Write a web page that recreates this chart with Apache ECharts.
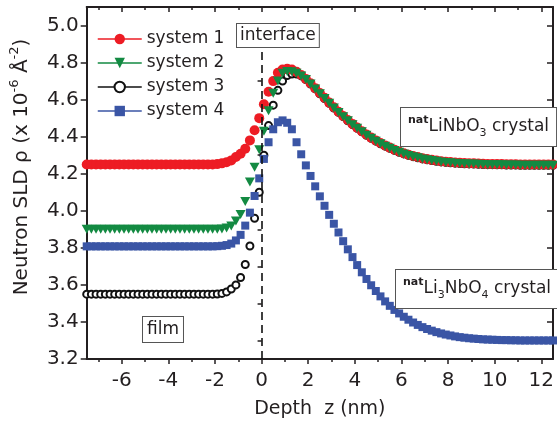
<!DOCTYPE html>
<html><head><meta charset="utf-8">
<script src="https://cdn.jsdelivr.net/npm/echarts@6/dist/echarts.min.js"></script>
<style>html,body{margin:0;padding:0;background:#fff}#c{width:557px;height:426px}</style>
</head><body><div id="c"></div>
<script>
// ---------- data ----------
const depth = [-7.5,-7.3,-7.1,-6.9,-6.7,-6.5,-6.3,-6.1,-5.9,-5.7,-5.5,-5.3,-5.1,-4.9,-4.7,-4.5,-4.3,-4.1,-3.9,-3.7,-3.5,-3.3,-3.1,-2.9,-2.7,-2.5,-2.3,-2.1,
 -1.9,-1.7,-1.5,-1.3,-1.1,-0.9,-0.7,-0.5,-0.3,-0.1,
 0.1,0.3,0.5,0.7,0.9,1.1,1.3,1.5,
 1.7,1.9,2.1,2.3,2.5,2.7,2.9,3.1,3.3,3.5,3.7,3.9,4.1,4.3,4.5,4.7,4.9,5.1,5.3,5.5,5.7,5.9,6.1,6.3,6.5,6.7,6.9,7.1,7.3,7.5,7.7,7.9,8.1,8.3,8.5,8.7,8.9,9.1,9.3,9.5,9.7,9.9,10.1,10.3,10.5,10.7,10.9,11.1,11.3,11.5,11.7,11.9,12.1,12.3,12.5];

const system1 = [4.25,4.25,4.25,4.25,4.25,4.25,4.25,4.25,4.25,4.25,4.25,4.25,4.25,4.25,4.25,4.25,4.25,4.25,4.25,4.25,4.25,4.25,4.25,4.25,4.25,4.25,4.25,4.25,
 4.252,4.256,4.262,4.272,4.29,4.308,4.335,4.38,4.435,4.50,
 4.575,4.643,4.70,4.745,4.762,4.767,4.762,4.75,
 4.733,4.712,4.688,4.662,4.636,4.61,4.584,4.559,4.535,4.512,4.49,4.469,4.449,4.43,4.412,4.395,4.38,4.366,4.353,4.341,4.33,4.32,4.311,4.303,4.296,4.29,4.284,4.279,4.275,4.271,4.268,4.265,4.263,4.261,4.259,4.258,4.257,4.256,4.255,4.254,4.253,4.253,4.252,4.252,4.251,4.251,4.251,4.25,4.25,4.25,4.25,4.25,4.25,4.25,4.25];

const system2 = [3.9,3.9,3.9,3.9,3.9,3.9,3.9,3.9,3.9,3.9,3.9,3.9,3.9,3.9,3.9,3.9,3.9,3.9,3.9,3.9,3.9,3.9,3.9,3.9,3.9,3.9,3.9,3.9,
 3.90,3.902,3.907,3.918,3.945,3.98,4.05,4.155,4.235,4.33,
 4.43,4.54,4.635,4.70,4.742,4.752,4.75,4.742,
 4.728,4.708,4.684,4.658,4.632,4.606,4.58,4.555,4.531,4.508,4.486,4.465,4.445,4.426,4.408,4.391,4.376,4.362,4.349,4.337,4.326,4.316,4.307,4.299,4.292,4.286,4.28,4.275,4.271,4.267,4.264,4.261,4.259,4.257,4.255,4.254,4.253,4.252,4.251,4.25,4.249,4.249,4.248,4.248,4.247,4.247,4.247,4.246,4.246,4.246,4.246,4.246,4.246,4.246,4.246];

const system3 = [3.55,3.55,3.55,3.55,3.55,3.55,3.55,3.55,3.55,3.55,3.55,3.55,3.55,3.55,3.55,3.55,3.55,3.55,3.55,3.55,3.55,3.55,3.55,3.55,3.55,3.55,3.55,3.55,
 3.551,3.554,3.562,3.578,3.60,3.64,3.71,3.81,3.96,4.10,
 4.30,4.46,4.57,4.65,4.70,4.73,4.738,4.738,
 4.728,4.708,4.684,4.658,4.632,4.606,4.58,4.555,4.531,4.508,4.486,4.465,4.445,4.426,4.408,4.391,4.376,4.362,4.349,4.337,4.326,4.316,4.307,4.299,4.292,4.286,4.28,4.275,4.271,4.267,4.264,4.261,4.259,4.257,4.255,4.254,4.253,4.252,4.251,4.25,4.249,4.249,4.248,4.248,4.247,4.247,4.247,4.246,4.246,4.246,4.246,4.246,4.246,4.246,4.246];

const system4 = [3.808,3.808,3.808,3.808,3.808,3.808,3.808,3.808,3.808,3.808,3.808,3.808,3.808,3.808,3.808,3.808,3.808,3.808,3.808,3.808,3.808,3.808,3.808,3.808,3.808,3.808,3.808,3.808,
 3.809,3.811,3.815,3.823,3.84,3.87,3.92,3.99,4.08,4.175,
 4.28,4.37,4.44,4.478,4.488,4.475,4.44,4.37,
 4.305,4.245,4.188,4.132,4.078,4.027,3.978,3.93,3.883,3.836,3.792,3.75,3.707,3.668,3.632,3.598,3.567,3.538,3.511,3.487,3.465,3.446,3.428,3.412,3.397,3.384,3.372,3.362,3.353,3.345,3.338,3.332,3.327,3.322,3.318,3.315,3.312,3.31,3.308,3.306,3.305,3.304,3.303,3.302,3.302,3.301,3.301,3.3,3.3,3.3,3.3,3.3,3.3,3.3,3.3];

const seriesNames = ['system 1','system 2','system 3','system 4'];
const xTickLabels = [-6,-4,-2,0,2,4,6,8,10,12];
const xMinorTicks = [-7,-5,-3,-1,1,3,5,7,9,11];
const yTickLabels = [3.2,3.4,3.6,3.8,4.0,4.2,4.4,4.6,4.8,5.0];
const yMinorTicks = [3.3,3.5,3.7,3.9,4.1,4.3,4.5,4.7,4.9];
const interfaceDepth = 0;

// ---------- chart ----------
const FONT = 'DejaVu Sans';
const INK = '#231F20';
const chart = echarts.init(document.getElementById('c'), null, {renderer: 'canvas'});
const pairs = arr => depth.map((x, i) => [x, arr[i]]);

const X_MIN = -7.5, X_MAX = 12.5, Y_MIN = 3.2, Y_MAX = 5.1;

function xAx(pos, ticks, len, inside, opts) {
  return Object.assign({
    type: 'value', min: X_MIN, max: X_MAX, position: pos, gridIndex: 0,
    axisLine: {show: false},
    axisTick: {show: true, customValues: ticks, length: len, inside: inside, lineStyle: {color: INK, width: 1.5}},
    axisLabel: {show: false},
    splitLine: {show: false}
  }, opts || {});
}
function yAx(pos, ticks, len, inside, opts) {
  return Object.assign({
    type: 'value', min: Y_MIN, max: Y_MAX, position: pos, gridIndex: 0,
    axisLine: {show: false},
    axisTick: {show: true, customValues: ticks, length: len, inside: inside, lineStyle: {color: INK, width: 1.5}},
    axisLabel: {show: false},
    splitLine: {show: false}
  }, opts || {});
}

const option = {
  animation: false,
  backgroundColor: '#fff',
  grid: {left: 84, right: 2, top: 7, bottom: 67, containLabel: false},
  legend: {
    data: seriesNames,
    orient: 'vertical', left: 92, top: 25,
    itemWidth: 44, itemHeight: 13, itemGap: 6,
    textStyle: {fontFamily: FONT, fontSize: 17, color: INK, lineHeight: 18},
    lineStyle: {opacity: 1, width: 1.5},
    selectedMode: false
  },
  xAxis: [
    xAx('bottom', xTickLabels, 5, false, {
      axisLine: {show: true, onZero: false, lineStyle: {color: INK, width: 2}},
      axisLabel: {show: true, customValues: xTickLabels, fontFamily: FONT, fontSize: 20, color: INK, margin: 12},
      name: 'Depth  z (nm)', nameLocation: 'middle', nameGap: 41,
      nameTextStyle: {fontFamily: FONT, fontSize: 19, color: INK}
    }),
    xAx('bottom', xMinorTicks, 3, false),
    xAx('top', xTickLabels, 5, true, {axisLine: {show: true, onZero: false, lineStyle: {color: INK, width: 2}}}),
    xAx('top', xMinorTicks, 3, true)
  ],
  yAxis: [
    yAx('left', yTickLabels, 6, false, {
      axisLine: {show: true, onZero: false, lineStyle: {color: INK, width: 2}},
      axisLabel: {show: true, customValues: yTickLabels, fontFamily: FONT, fontSize: 20, color: INK, margin: 8,
                  formatter: v => v.toFixed(1)},
      name: 'Neutron SLD ρ (x 10{sup|-6} Å{sup|-2})', nameLocation: 'middle', nameRotate: 90, nameGap: 44,
      nameTextStyle: {fontFamily: FONT, fontSize: 20, color: INK, lineHeight: 28, padding: [0, 0, 0, 32],
        rich: {sup: {fontFamily: FONT, fontSize: 13, color: INK, verticalAlign: 'top'}}}
    }),
    yAx('left', yMinorTicks, 4, false),
    yAx('right', yTickLabels, 6, true, {axisLine: {show: true, onZero: false, lineStyle: {color: INK, width: 2}}}),
    yAx('right', yMinorTicks, 4, true)
  ],
  series: [
    {name: 'system 3', type: 'line', data: pairs(system3), symbol: 'emptyCircle', symbolSize: 7,
     itemStyle: {color: '#111111', borderWidth: 1.1}, lineStyle: {opacity: 0}, emphasis: {disabled: true}, z: 2},
    {name: 'system 1', type: 'line', data: pairs(system1), symbol: 'circle', symbolSize: 10,
     itemStyle: {color: '#ED1C24'}, lineStyle: {opacity: 0}, emphasis: {disabled: true}, z: 3},
    {name: 'system 4', type: 'line', data: pairs(system4), symbol: 'rect', symbolSize: 8,
     itemStyle: {color: '#3A55A5'}, lineStyle: {opacity: 0}, emphasis: {disabled: true}, z: 4},
    {name: 'system 2', type: 'line', data: pairs(system2), symbol: 'triangle', symbolRotate: 180, symbolSize: [10, 9],
     itemStyle: {color: '#138A42'}, lineStyle: {opacity: 0}, emphasis: {disabled: true}, z: 5,
     markLine: {silent: true, symbol: ['none', 'none'], label: {show: false}, z: 6,
       lineStyle: {color: '#111', type: [8, 5], width: 1.6},
       data: [[{coord: [interfaceDepth, Y_MIN]}, {coord: [interfaceDepth, 4.89]}]]}}
  ],
  graphic: [
    {type: 'text', left: 236, top: 23, z: 100,
     style: {text: 'interface', fontFamily: FONT, fontSize: 17, lineHeight: 18, fill: INK,
             backgroundColor: '#fff', borderColor: '#555', borderWidth: 1, padding: [3, 3, 2, 3]}},
    {type: 'text', left: 400, top: 107, z: 100,
     style: {text: '{sup|nat}LiNbO{sub|3} crystal', fontFamily: FONT, fontSize: 17, lineHeight: 24, fill: INK,
             backgroundColor: '#fff', borderColor: '#555', borderWidth: 1, padding: [7, 7, 7, 7],
             rich: {sup: {fontFamily: FONT, fontSize: 11, fontWeight: 'bold', fill: INK, verticalAlign: 'top'},
                    sub: {fontFamily: FONT, fontSize: 11, fill: INK, verticalAlign: 'bottom'}}}},
    {type: 'text', left: 395, top: 269, z: 100,
     style: {text: '{sup|nat}Li{sub|3}NbO{sub|4} crystal', fontFamily: FONT, fontSize: 17, lineHeight: 24, fill: INK,
             backgroundColor: '#fff', borderColor: '#555', borderWidth: 1, padding: [7, 7, 7, 7],
             rich: {sup: {fontFamily: FONT, fontSize: 11, fontWeight: 'bold', fill: INK, verticalAlign: 'top'},
                    sub: {fontFamily: FONT, fontSize: 11, fill: INK, verticalAlign: 'bottom'}}}},
    {type: 'text', left: 142, top: 316, z: 100,
     style: {text: 'film', fontFamily: FONT, fontSize: 17, lineHeight: 18, fill: INK,
             backgroundColor: '#fff', borderColor: '#555', borderWidth: 1, padding: [4, 4, 3, 4]}}
  ]
};
chart.setOption(option);
</script>
</body></html>
